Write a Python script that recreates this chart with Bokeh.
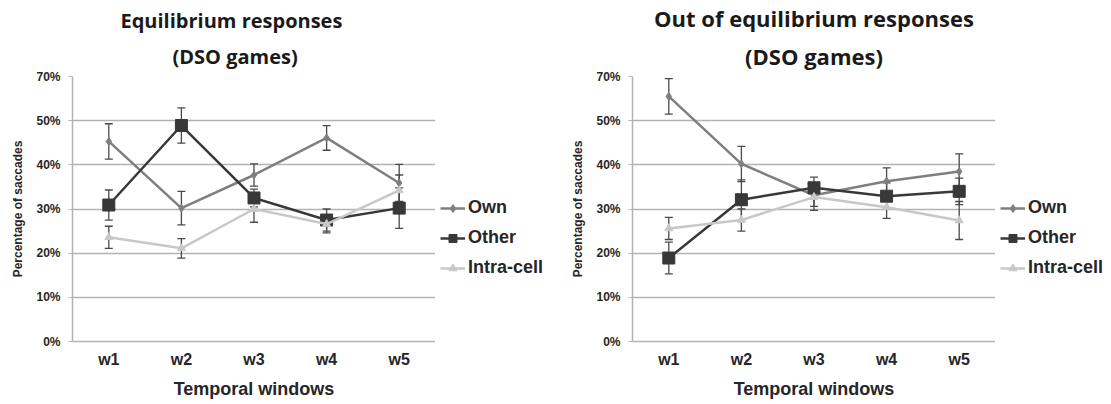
from bokeh.plotting import figure
from bokeh.layouts import row
from bokeh.models import (ColumnDataSource, Whisker, TeeHead, Legend, LegendItem,
                          Title, FixedTicker, Range1d)
from bokeh.embed import file_html
from bokeh.resources import INLINE

categories = ["w1", "w2", "w3", "w4", "w5"]

# Equilibrium responses (values in %, placed on the chart's own grid)
eq_own = [45.3, 30.2, 37.7, 46.1, 35.9]
eq_own_err = [4.0, 3.8, 2.5, 2.8, 4.2]
eq_other = [30.9, 48.9, 32.5, 27.5, 30.2]
eq_other_err = [3.4, 4.0, 2.0, 2.5, 4.6]
eq_intra = [23.6, 21.1, 30.0, 26.6, 34.2]
eq_intra_err = [2.5, 2.2, 3.0, 2.0, 3.5]

# Out of equilibrium responses
out_own = [55.5, 40.2, 33.1, 36.3, 38.5]
out_own_err = [4.0, 4.0, 2.5, 3.0, 4.0]
out_other = [18.9, 32.1, 34.8, 32.9, 34.0]
out_other_err = [3.6, 4.5, 2.4, 3.0, 3.0]
out_intra = [25.6, 27.5, 32.7, 30.4, 27.4]
out_intra_err = [2.5, 2.5, 3.0, 2.5, 4.3]

y_ticks = [0, 10, 20, 30, 40, 50, 60]
y_tick_labels = ["0%", "10%", "20%", "30%", "40%", "50%", "70%"]

series_names = ["Own", "Other", "Intra-cell"]
series_colors = ["#7f7f7f", "#383838", "#c8c8c8"]
series_markers = ["diamond", "square", "triangle"]
series_sizes = [8, 12, 8]

GRID = "#b3b3b3"
TXT = "#262626"
FW, FH, TOP, BOTTOM = 363, 265, 76, 60


def add_series(p, src, col, mk, sz):
    ln = p.line("x", "y", source=src, line_color=col, line_width=2.5)
    sc = p.scatter("x", "y", source=src, marker=mk, size=sz,
                   fill_color=col, line_color=col)
    return ln, sc


def make_panel(t1, t2, data, left, align, off1, off2, tsize, tstand):
    p = figure(x_range=categories, y_range=(0, 60),
               frame_width=FW, frame_height=FH,
               output_backend="svg", toolbar_location=None,
               min_border_left=left, min_border_right=0,
               min_border_top=TOP, min_border_bottom=BOTTOM)
    p.add_layout(Title(text=t2, align=align, offset=off2,
                       text_font="Open Sans", text_font_style="bold",
                       text_font_size=tsize, text_color="#1a1a1a",
                       text_line_height=0.8, standoff=tstand), "above")
    p.add_layout(Title(text=t1, align=align, offset=off1,
                       text_font="Open Sans", text_font_style="bold",
                       text_font_size=tsize, text_color="#1a1a1a",
                       text_line_height=0.8, standoff=0), "above")
    p.outline_line_color = None
    p.xgrid.grid_line_color = None
    p.ygrid.grid_line_color = GRID
    p.ygrid.grid_line_width = 1.5

    p.yaxis.ticker = FixedTicker(ticks=y_ticks)
    p.yaxis.major_label_overrides = dict(zip(y_ticks, y_tick_labels))
    for ax in (p.xaxis[0], p.yaxis[0]):
        ax.axis_line_color = GRID
        ax.axis_line_width = 1.5
        ax.major_tick_line_color = GRID
        ax.minor_tick_line_color = None
        ax.major_label_text_font = "Liberation Sans"
        ax.major_label_text_font_style = "bold"
        ax.major_label_text_color = TXT
        ax.axis_label_text_font = "Liberation Sans"
        ax.axis_label_text_font_style = "bold"
        ax.axis_label_text_color = TXT
    p.yaxis.major_tick_out = 4
    p.yaxis.major_tick_in = 0
    p.yaxis.major_label_text_font_size = "12px"
    p.yaxis.axis_label = "Percentage of saccades"
    p.yaxis.axis_label_text_font_size = "12px"
    p.yaxis.axis_label_standoff = 8
    p.yaxis.major_label_standoff = 8

    p.xaxis.major_tick_out = 0
    p.xaxis.major_tick_in = 0
    p.xaxis.major_label_text_font_size = "16px"
    p.xaxis.major_label_standoff = 9
    p.xaxis.axis_label = "Temporal windows"
    p.xaxis.axis_label_text_font_size = "18px"
    p.xaxis.axis_label_standoff = 8

    sources = []
    for (vals, errs), col, mk, sz in zip(data, series_colors, series_markers, series_sizes):
        src = ColumnDataSource(dict(x=categories, y=vals,
                                    upper=[v + e for v, e in zip(vals, errs)],
                                    lower=[v - e for v, e in zip(vals, errs)]))
        add_series(p, src, col, mk, sz)
        wk = Whisker(base="x", upper="upper", lower="lower", source=src,
                     line_color="#4a4a4a", line_width=1.3,
                     upper_head=TeeHead(size=8, line_color="#4a4a4a", line_width=1.3),
                     lower_head=TeeHead(size=8, line_color="#4a4a4a", line_width=1.3))
        p.add_layout(wk)
        sources.append(src)
    return p, sources


def make_legend(sources, width):
    # a narrow, axis-less companion figure that only carries the legend
    lf = figure(x_range=categories, y_range=Range1d(1000, 1001),
                frame_width=width, frame_height=FH,
                output_backend="svg", toolbar_location=None,
                x_axis_location=None, y_axis_location=None,
                min_border_left=0, min_border_right=0,
                min_border_top=TOP, min_border_bottom=BOTTOM)
    lf.grid.visible = False
    lf.outline_line_color = None
    items = []
    for src, name, col, mk, sz in zip(sources, series_names, series_colors,
                                      series_markers, series_sizes):
        ln, sc = add_series(lf, src, col, mk, sz)
        items.append(LegendItem(label=name, renderers=[ln, sc]))
    legend = Legend(items=items, location=(5, 63), orientation="vertical",
                    border_line_color=None, background_fill_alpha=0,
                    label_text_font="Liberation Sans", label_text_font_style="bold",
                    label_text_font_size="18px", label_text_color=TXT,
                    glyph_width=25, glyph_height=20, label_height=20,
                    label_standoff=3, spacing=9, padding=0, margin=0)
    lf.add_layout(legend, "center")
    return lf


p1, s1 = make_panel("Equilibrium responses", "(DSO games)",
                    [(eq_own, eq_own_err), (eq_other, eq_other_err), (eq_intra, eq_intra_err)],
                    left=72, align="left", off1=48, off2=100, tsize="20px", tstand=14)
l1 = make_legend(s1, 128)
p2, s2 = make_panel("Out of equilibrium responses", "(DSO games)",
                    [(out_own, out_own_err), (out_other, out_other_err), (out_intra, out_intra_err)],
                    left=69, align="center", off1=0, off2=0, tsize="22px", tstand=12)
l2 = make_legend(s2, 108)

layout = row(p1, l1, p2, l2)
open("out.html", "w").write(file_html(layout, INLINE))
